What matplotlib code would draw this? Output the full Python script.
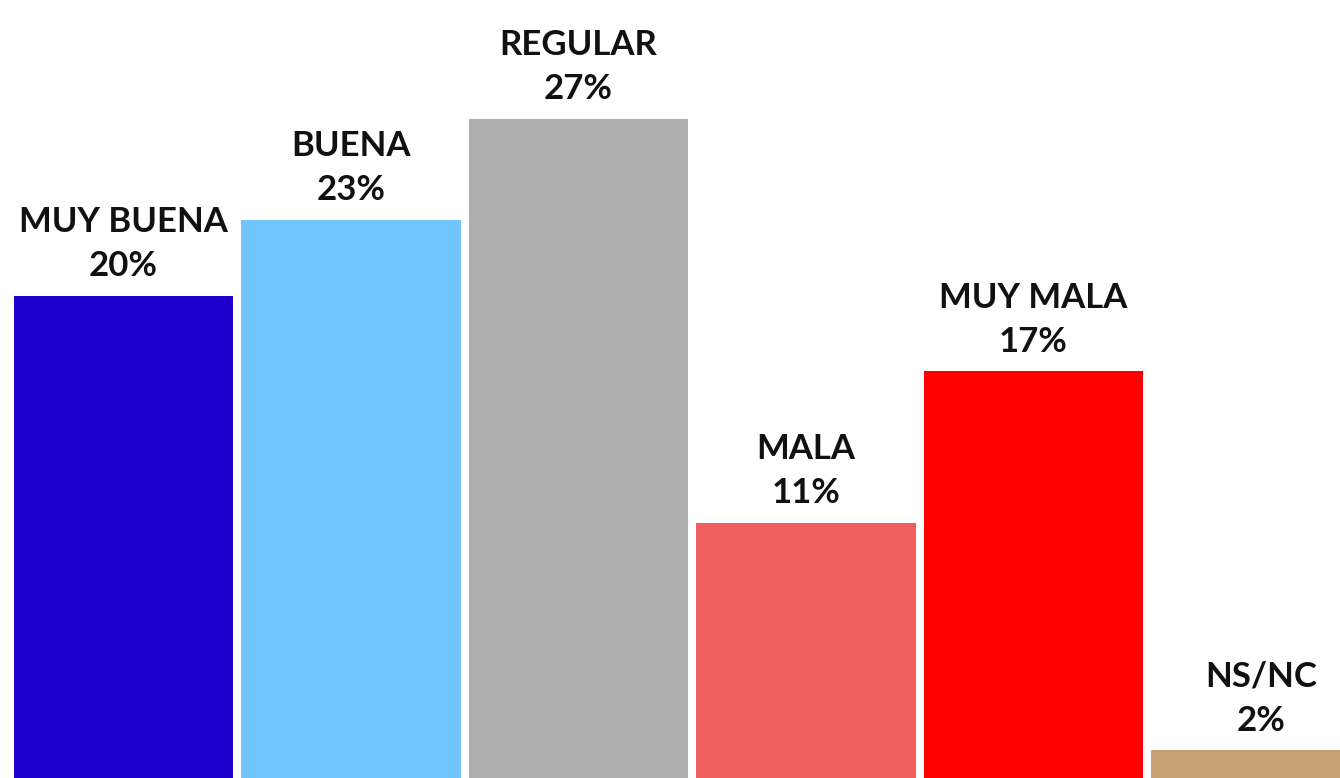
import matplotlib.pyplot as plt

categories = ["MUY BUENA", "BUENA", "REGULAR", "MALA", "MUY MALA", "NS/NC"]
values = [20, 23, 27, 11, 17, 2]
colors = ["#1e00cc", "#70c5fd", "#aeaeae", "#ef5f5f", "#ff0000", "#c8a275"]


def main():
    fig = plt.figure(figsize=(13.4, 7.78), dpi=100)
    ax = fig.add_axes([0, 0, 1, 1])

    x = list(range(len(categories)))
    bars = ax.bar(x, values, width=0.965, color=colors)

    for b, cat, v in zip(bars, categories, values):
        ax.annotate(f"{cat}\n{v}%",
                    (b.get_x() + b.get_width() / 2, b.get_height()),
                    xytext=(0, 10), textcoords="offset points",
                    ha="center", va="bottom", fontsize=25,
                    fontfamily="Lato", fontweight="bold",
                    linespacing=1.45, color="#111111")

    # baseline sits below the bottom edge and the last bar runs off the right
    ax.set_xlim(-0.543, 5.347)
    ax.set_ylim(0.91, 31.7)
    ax.axis("off")

    fig.savefig("out.png", dpi=100)
    plt.close(fig)


if __name__ == "__main__":
    main()
